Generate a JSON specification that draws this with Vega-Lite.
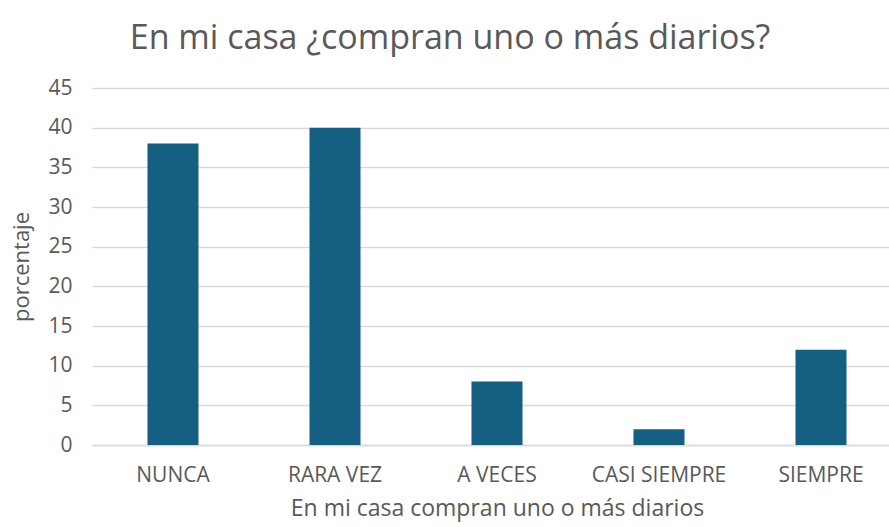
{
  "$schema": "https://vega.github.io/schema/vega-lite/v6.json",
  "width": 810,
  "height": 357,
  "autosize": {"type": "none"},
  "padding": {"left": 92, "top": 88, "right": 0, "bottom": 82},
  "background": "white",
  "title": {
    "text": "En mi casa ¿compran uno o más diarios?",
    "font": "Open Sans",
    "fontSize": 34,
    "fontWeight": "normal",
    "color": "#595959",
    "anchor": "middle",
    "frame": "group",
    "offset": 21,
    "dx": -47
  },
  "data": {
    "values": [
      {"categoria": "NUNCA", "porcentaje": 38},
      {"categoria": "RARA VEZ", "porcentaje": 40},
      {"categoria": "A VECES", "porcentaje": 8},
      {"categoria": "CASI SIEMPRE", "porcentaje": 2},
      {"categoria": "SIEMPRE", "porcentaje": 12}
    ]
  },
  "mark": {"type": "bar", "color": "#156082"},
  "encoding": {
    "x": {
      "field": "categoria",
      "type": "nominal",
      "sort": null,
      "scale": {"paddingInner": 0.685, "paddingOuter": 0.3425},
      "axis": {
        "title": "En mi casa compran uno o más diarios",
        "labelAngle": 0,
        "labelFont": "Open Sans",
        "labelFontSize": 21,
        "labelColor": "#595959",
        "labelPadding": 19,
        "titleFont": "Open Sans",
        "titleFontSize": 23,
        "titleFontWeight": "normal",
        "titleColor": "#595959",
        "titlePadding": 12,
        "ticks": false,
        "domain": true,
        "domainColor": "#D9D9D9",
        "domainWidth": 1.5
      }
    },
    "y": {
      "field": "porcentaje",
      "type": "quantitative",
      "scale": {"domain": [0, 45]},
      "axis": {
        "title": "porcentaje",
        "values": [0, 5, 10, 15, 20, 25, 30, 35, 40, 45],
        "labelFont": "Open Sans",
        "labelFontSize": 21,
        "labelColor": "#595959",
        "labelPadding": 20,
        "titleFont": "Open Sans",
        "titleFontSize": 22,
        "titleFontWeight": "normal",
        "titleColor": "#595959",
        "titlePadding": 14,
        "ticks": false,
        "domain": false,
        "grid": true,
        "gridColor": "#D9D9D9",
        "gridWidth": 1.5
      }
    }
  },
  "config": {"view": {"stroke": null}}
}
